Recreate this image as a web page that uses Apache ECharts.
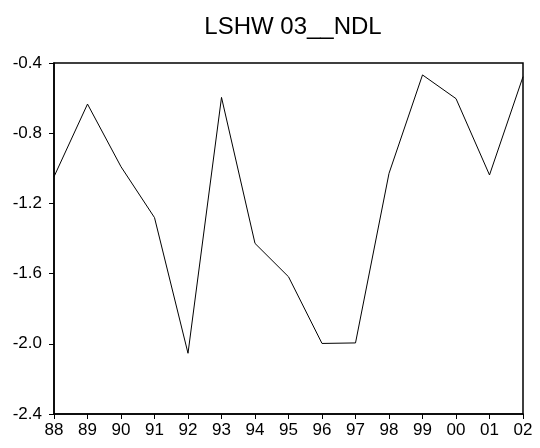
<!DOCTYPE html>
<html><head><meta charset="utf-8">
<script src="https://cdn.jsdelivr.net/npm/echarts@6/dist/echarts.min.js"></script>
<style>html,body{margin:0;padding:0;background:#fff}#c{width:540px;height:448px}</style>
</head><body><div id="c"></div>
<script>
const categories = ['88','89','90','91','92','93','94','95','96','97','98','99','00','01','02'];
const values = [-1.048,-0.634,-0.991,-1.281,-2.054,-0.596,-1.428,-1.618,-1.998,-1.995,-1.029,-0.468,-0.603,-1.038,-0.478];
const title = 'LSHW 03__NDL';
const chart = echarts.init(document.getElementById('c'));
chart.setOption({
  backgroundColor:'#fff',
  animation:false,
  title:{text:title,left:288,top:10,textAlign:'center',textStyle:{fontFamily:'Liberation Sans',fontSize:24,fontWeight:'normal',color:'#000'}},
  grid:{left:54,right:17,top:63,bottom:34,show:true,borderColor:'#000',borderWidth:1.5},
  xAxis:{type:'category',data:categories,boundaryGap:false,
    axisLine:{lineStyle:{color:'#000',width:1.5}},
    axisTick:{alignWithLabel:true,length:5,lineStyle:{color:'#000'}},
    axisLabel:{fontFamily:'Liberation Sans',fontSize:17,color:'#000',margin:8,interval:0},
    splitLine:{show:false}},
  yAxis:{type:'value',min:-2.4,max:-0.4,interval:0.4,
    axisLine:{show:true,lineStyle:{color:'#000',width:1.5}},
    axisTick:{show:true,length:5,lineStyle:{color:'#000'}},
    axisLabel:{fontFamily:'Liberation Sans',fontSize:17,color:'#000',margin:12,formatter:v=>v.toFixed(1)},
    splitLine:{show:false}},
  series:[{type:'line',data:values,symbol:'none',lineStyle:{color:'#000',width:1}}]
});
</script></body></html>
